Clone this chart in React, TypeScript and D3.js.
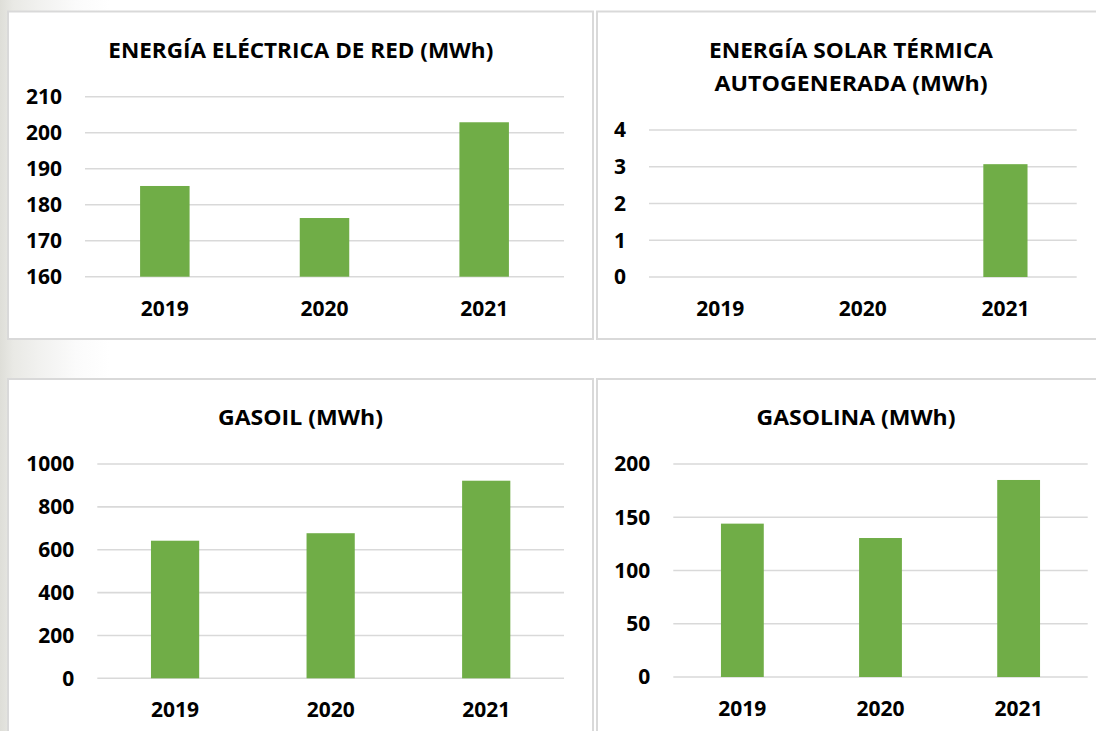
import React from "react";
import * as d3 from "d3";

// ---- data ----
const years = ["2019", "2020", "2021"];
const electricaRed = [185.2, 176.3, 202.9];
const solarTermica = [0, 0, 3.07];
const gasoil = [642, 677, 922];
const gasolina = [144, 130.5, 185];

const ticksElectrica = [160, 170, 180, 190, 200, 210];
const ticksSolar = [0, 1, 2, 3, 4];
const ticksGasoil = [0, 200, 400, 600, 800, 1000];
const ticksGasolina = [0, 50, 100, 150, 200];

const titleElectrica = ["ENERGÍA ELÉCTRICA DE RED (MWh)"];
const titleSolar = ["ENERGÍA SOLAR TÉRMICA", "AUTOGENERADA (MWh)"];
const titleGasoil = ["GASOIL (MWh)"];
const titleGasolina = ["GASOLINA (MWh)"];

// ---- layout (not data) ----
const W = 1096;
const H = 731;
const FONT = "'Open Sans', 'Liberation Sans', sans-serif";
const BAR = "#70AD47";
const GRID = "#d9d9d9";
const TEXT = "#000000";

type PanelDef = {
  title: string[];
  titleWidths: number[];
  values: number[];
  ticks: number[];
  box: { x: number; y: number; w: number; h: number };
  plot: { left: number; right: number; top: number; bottom: number };
  titleX: number;
  titleY: number;
};

const panels: PanelDef[] = [
  {
    title: titleElectrica,
    titleWidths: [385],
    values: electricaRed,
    ticks: ticksElectrica,
    box: { x: 8, y: 11.5, w: 585, h: 327.5 },
    plot: { left: 85, right: 564, top: 96.7, bottom: 276.7 },
    titleX: 300.8,
    titleY: 57.5,
  },
  {
    title: titleSolar,
    titleWidths: [284, 273],
    values: solarTermica,
    ticks: ticksSolar,
    box: { x: 597, y: 11.5, w: 520, h: 327.5 },
    plot: { left: 649, right: 1076.7, top: 130, bottom: 277 },
    titleX: 851,
    titleY: 57.5,
  },
  {
    title: titleGasoil,
    titleWidths: [165],
    values: gasoil,
    ticks: ticksGasoil,
    box: { x: 8, y: 379, w: 585, h: 400 },
    plot: { left: 97.3, right: 564, top: 464, bottom: 678.3 },
    titleX: 300.5,
    titleY: 425,
  },
  {
    title: titleGasolina,
    titleWidths: [199],
    values: gasolina,
    ticks: ticksGasolina,
    box: { x: 597, y: 379, w: 520, h: 400 },
    plot: { left: 673.3, right: 1087.7, top: 464, bottom: 677 },
    titleX: 856,
    titleY: 425,
  },
];

function Panel({ p }: { p: PanelDef }) {
  const x = d3
    .scaleBand<string>()
    .domain(years)
    .range([p.plot.left, p.plot.right])
    .paddingInner(0.69)
    .paddingOuter(0.345);
  const yDomain = d3.extent(p.ticks) as [number, number];
  const y = d3.scaleLinear().domain(yDomain).range([p.plot.bottom, p.plot.top]);
  const base = yDomain[0];

  return (
    <g>
      <rect
        x={p.box.x}
        y={p.box.y}
        width={p.box.w}
        height={p.box.h}
        fill="#ffffff"
        stroke={GRID}
        strokeWidth={2}
      />
      {p.title.map((line, i) => (
        <text
          key={i}
          x={p.titleX}
          y={p.titleY + i * 33.4}
          textAnchor="middle"
          fontFamily={FONT}
          fontWeight={700}
          fontSize={22}
          fill={TEXT}
          textLength={p.titleWidths[i]}
          lengthAdjust="spacingAndGlyphs"
        >
          {line}
        </text>
      ))}
      {p.ticks.map((t) => (
        <g key={t}>
          <line
            x1={p.plot.left}
            x2={p.plot.right}
            y1={y(t)}
            y2={y(t)}
            stroke={GRID}
            strokeWidth={1.6}
          />
          <text
            x={p.plot.left - 23}
            y={y(t) + 7.4}
            textAnchor="end"
            fontFamily={FONT}
            fontWeight={700}
            fontSize={21}
            fill={TEXT}
          >
            {t}
          </text>
        </g>
      ))}
      {years.map((yr, i) => {
        const v = p.values[i];
        if (!(v > base)) return null;
        return (
          <rect
            key={yr}
            x={x(yr)}
            y={y(v)}
            width={x.bandwidth()}
            height={y(base) - y(v)}
            fill={BAR}
          />
        );
      })}
      {years.map((yr) => (
        <text
          key={yr}
          x={(x(yr) as number) + x.bandwidth() / 2}
          y={p.plot.bottom + 39}
          textAnchor="middle"
          fontFamily={FONT}
          fontWeight={700}
          fontSize={21}
          fill={TEXT}
        >
          {yr}
        </text>
      ))}
    </g>
  );
}

export default function App() {
  return (
    <div style={{ position: "absolute", left: 0, top: 0 }}>
      <svg width={W} height={H} style={{ display: "block" }}>
        <defs>
          <linearGradient id="bg" x1="0" x2="1" y1="0" y2="0">
            <stop offset="0" stopColor="#deded8" />
            <stop offset="0.012" stopColor="#e9e9e5" />
            <stop offset="0.035" stopColor="#f1f1ef" />
            <stop offset="0.07" stopColor="#fbfbfb" />
            <stop offset="0.1" stopColor="#ffffff" />
            <stop offset="1" stopColor="#ffffff" />
          </linearGradient>
        </defs>
        <rect x={0} y={0} width={W} height={H} fill="url(#bg)" />
        {panels.map((p, i) => (
          <Panel key={i} p={p} />
        ))}
      </svg>
    </div>
  );
}
